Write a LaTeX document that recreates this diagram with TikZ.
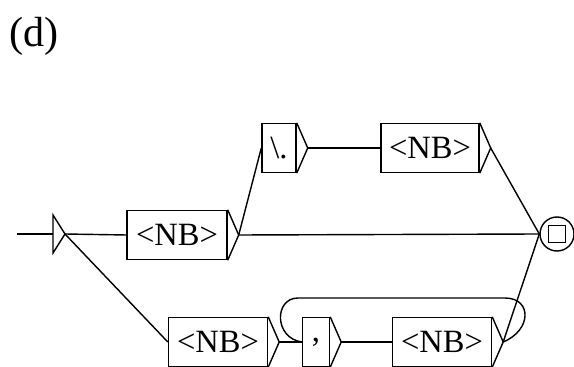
\documentclass[tikz,border=0pt]{standalone}
\usepackage{fontspec}
\setmainfont{Liberation Serif}
\usetikzlibrary{calc}
\tikzstyle{box} = [rectangle, draw, line width = 0.8pt, inner sep = 0pt, minimum height = 49*0.02cm, font = \fontsize{18.5}{21}\selectfont]
\tikzstyle{link} = [line width = 0.8pt]

\begin{document}
\begin{tikzpicture}[x = 0.02cm, y = -0.02cm]
        \useasboundingbox (0, 0) rectangle (574, 367);
        \node (label) at (34, 36) [font = \fontsize{24}{28}\selectfont] {(d)};
        \coordinate (entry) at (17, 234);
        \coordinate (init) at (53, 234);
        \coordinate (init-tip) at (65, 234);
        \node (nb1) at (177, 235) [box, minimum width = 100*0.02cm] {<NB>};
        \node (dot) at (279, 148) [box, minimum width = 34*0.02cm] {\textbackslash.};
        \node (nbB) at (430, 148) [box, minimum width = 98*0.02cm] {<NB>};
        \node (nbA) at (218, 342) [box, minimum width = 99*0.02cm] {<NB>};
        \node (comma) at (316, 342) [box, minimum width = 27*0.02cm] {,};
        \node (nbC) at (442, 342) [box, minimum width = 99*0.02cm] {<NB>};
        \node (final) at (557, 234) [circle, draw, link, minimum size = 34*0.02cm] {};
        \node (finalbox) at (final) [rectangle, draw, link, minimum width = 17*0.02cm, minimum height = 17*0.02cm] {};
        \draw [link] (init) ++(0, -19) -- (init-tip) -- ++(-12, 19) -- cycle;
        \foreach \n in {nb1, dot, nbB, nbA, comma, nbC} {
            \path ($(\n.east) + (11, 0)$) coordinate (\n-tip);
            \draw [link] (\n.north east) -- (\n-tip) -- (\n.south east);
        }
        \draw [link] (entry) -- (init);
        \draw [link] (init-tip) -- (nb1.west);
        \draw [link] (init-tip) -- (nbA.west);
        \draw [link] (nb1-tip) -- (dot.west);
        \draw [link] (dot-tip) -- (nbB.west);
        \draw [link] (nb1-tip) -- (final.west);
        \draw [link] (nbB-tip) -- (final.west);
        \draw [link] (nbA-tip) -- (comma.west);
        \draw [link] (comma-tip) -- (nbC.west);
        \draw [link] (nbC-tip) -- (final.west);
        \draw [link] (nbC-tip) .. controls (532, 330) and (532, 298) .. (505, 298) -- (298, 298) .. controls (274, 298) and (274, 338) .. (comma.west);
    \end{tikzpicture}
\end{document}
